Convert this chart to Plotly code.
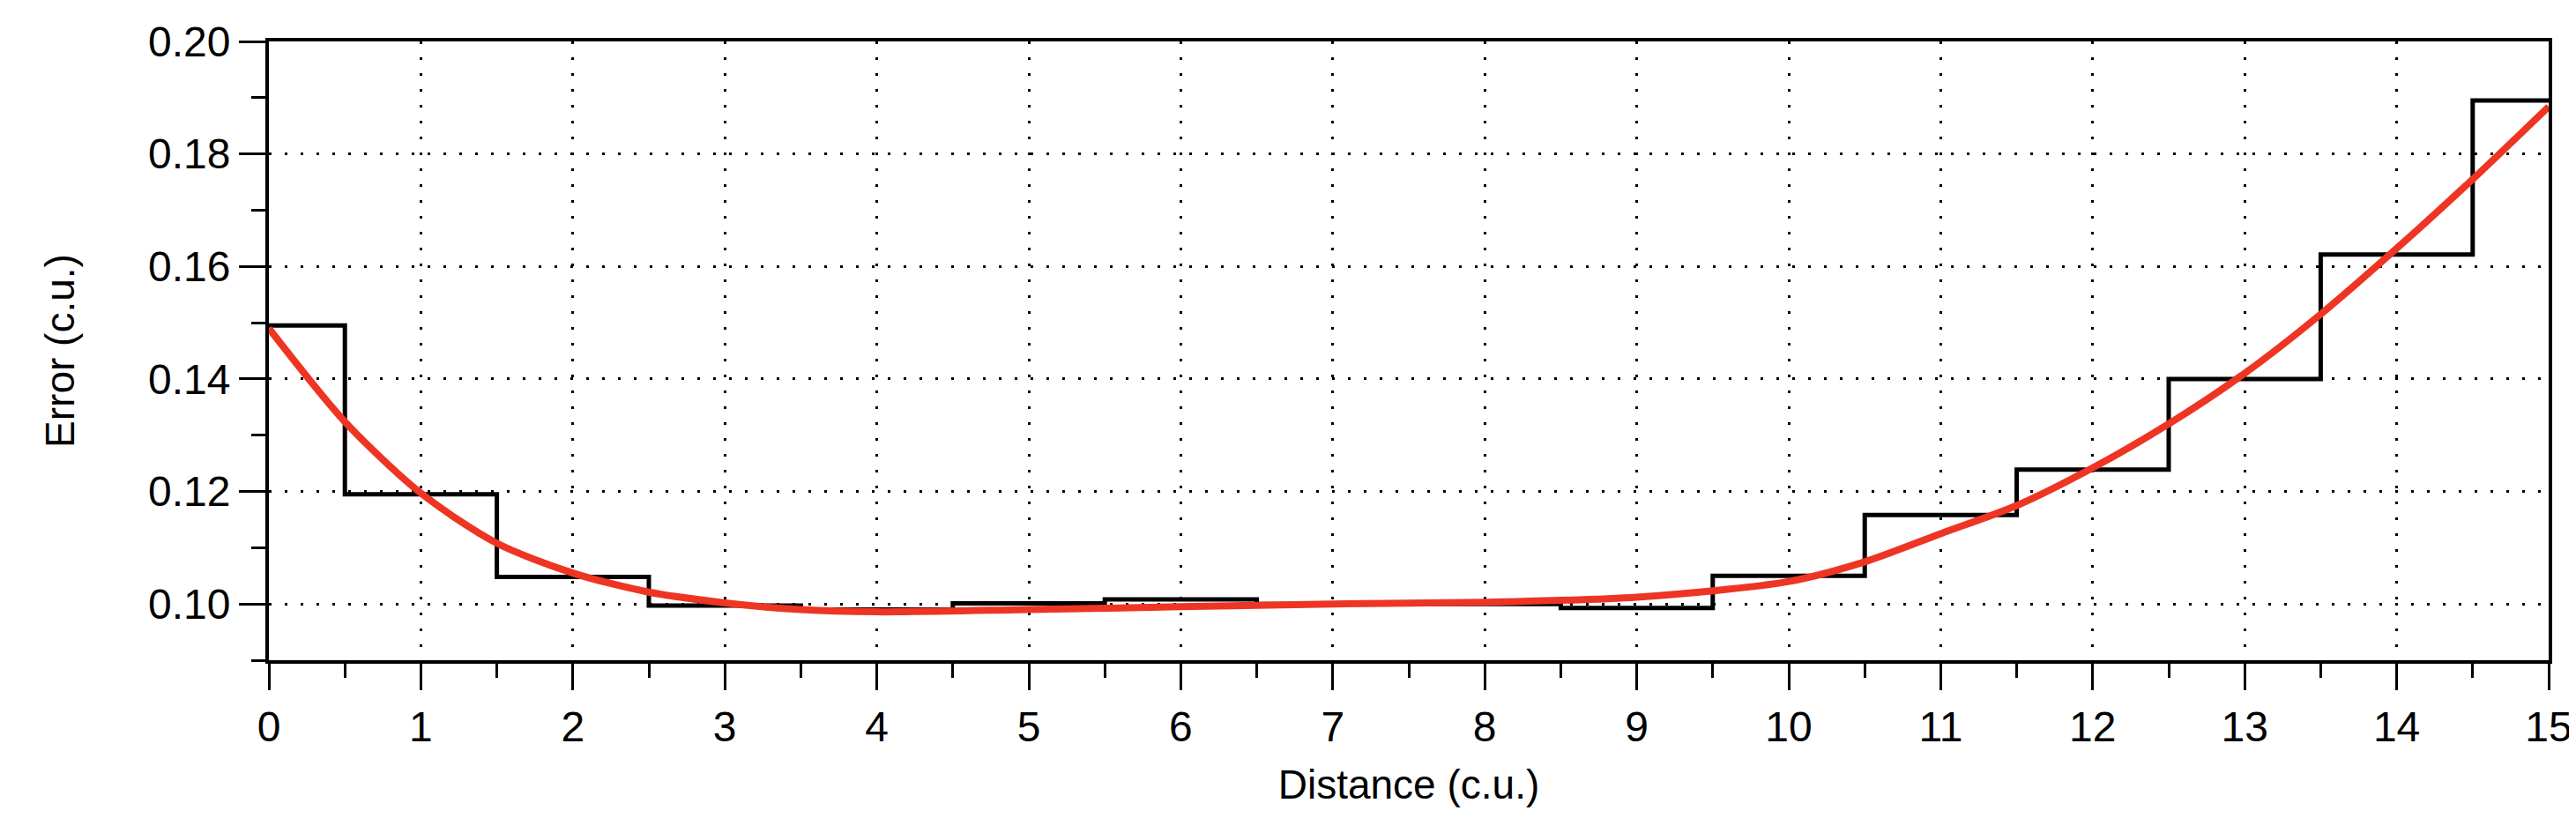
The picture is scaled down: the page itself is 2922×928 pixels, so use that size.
import plotly.graph_objects as go

# stap-waarden (gemeten fout per bin)
dist = list(range(16))
err_step = [0.1495, 0.1195, 0.1048, 0.0997, 0.0990, 0.1001, 0.1008, 0.1000,
            0.1000, 0.0993, 0.1050, 0.1158, 0.1239, 0.1400, 0.1621, 0.1895]

# vloeiende fit
fit_x = [0, 0.5, 1, 1.5, 2, 2.5, 3, 3.5, 4, 5, 6, 7, 8, 9, 10, 10.5,
         11, 11.5, 12, 12.5, 13, 13.5, 14, 14.5, 15]
fit_y = [0.149, 0.1324, 0.1197, 0.1108, 0.1055, 0.1021, 0.1002, 0.0990, 0.0986,
         0.0990, 0.0995, 0.1000, 0.1003, 0.1012, 0.1040, 0.1075,
         0.1125, 0.1175, 0.1242, 0.1320, 0.1410, 0.1515, 0.1632, 0.1755, 0.1884]

font = "Liberation Sans, Arial, sans-serif"

fig = go.Figure()
fig.add_trace(go.Scatter(x=dist, y=err_step, mode="lines",
                         line=dict(shape="hvh", color="black", width=5)))
fig.add_trace(go.Scatter(x=fit_x, y=fit_y, mode="lines",
                         line=dict(shape="spline", smoothing=0.8, color="#EE3524", width=8)))

fig.update_layout(
    width=2922, height=928, showlegend=False,
    paper_bgcolor="white", plot_bgcolor="white",
    margin=dict(l=297, r=39, t=39, b=187),
    font=dict(family=font, size=48, color="black"))

fig.update_xaxes(
    range=[0, 15], dtick=1, ticks="outside", ticklen=30, tickwidth=3,
    tickcolor="black", showline=True, linecolor="black", linewidth=4, mirror=True,
    showgrid=True, gridcolor="black", griddash="3px,15px", gridwidth=3,
    minor=dict(dtick=0.5, ticks="outside", ticklen=16, tickwidth=3, tickcolor="black", showgrid=False),
    zeroline=False, tickfont=dict(size=48),
    title=dict(text="Distance (c.u.)", font=dict(size=46), standoff=25))
fig.update_yaxes(
    range=[0.09, 0.20], tick0=0.10, dtick=0.02, tickformat=".2f", ticks="outside",
    ticklen=30, tickwidth=3, tickcolor="black",
    showline=True, linecolor="black", linewidth=4, mirror=True,
    showgrid=True, gridcolor="black", griddash="3px,15px", gridwidth=3,
    minor=dict(dtick=0.01, tick0=0.09, ticks="outside", ticklen=16, tickwidth=3, tickcolor="black", showgrid=False),
    zeroline=False, tickfont=dict(size=48),
    title=dict(text="Error (c.u.)", font=dict(size=46), standoff=70))

fig.write_html("out.html")
